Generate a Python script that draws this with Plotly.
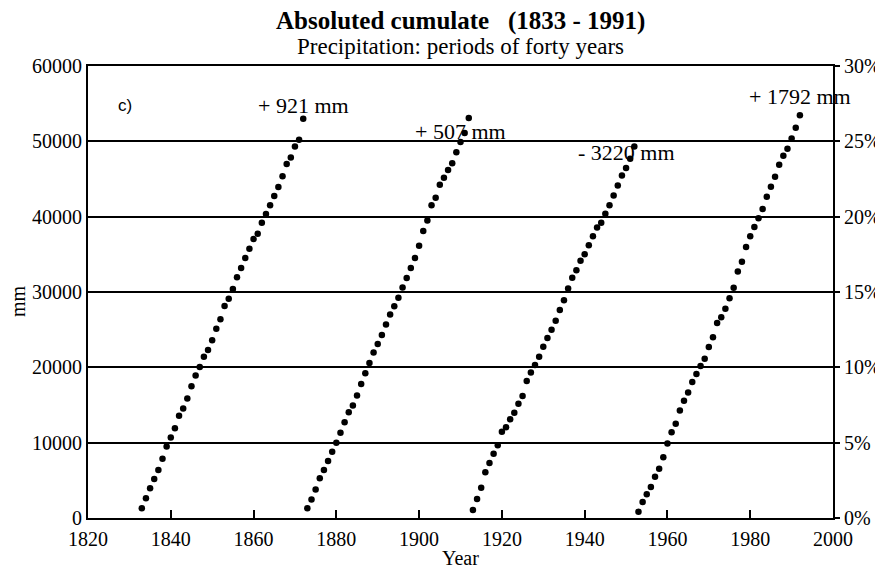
import plotly.graph_objects as go

# cumulative precipitation (mm), one point per year, four forty-year periods
years_1 = list(range(1833, 1873))
cum_1 = [1300, 2620, 3940, 5170, 6370, 7870, 9500, 10690, 11920, 13560,
         14530, 15850, 17480, 18930, 20040, 21410, 22290, 23610, 25110, 26390,
         28150, 29120, 30400, 31950, 33180, 34500, 35730, 37020, 37720, 39180,
         40370, 41520, 42750, 43940, 45350, 46980, 47870, 49320, 50210, 52990]

years_2 = list(range(1873, 1913))
cum_2 = [1300, 2440, 3770, 5270, 6370, 7560, 8800, 9990, 11310, 12720,
         14040, 14920, 16250, 17790, 19200, 20570, 21980, 23090, 24280, 25680,
         27000, 28100, 29250, 30600, 31850, 33200, 34500, 36150, 38100, 39500,
         41500, 42500, 44250, 45150, 46200, 47100, 48550, 49900, 51100, 53100]

years_3 = list(range(1913, 1953))
cum_3 = [1070, 2530, 4030, 6060, 7290, 8530, 9670, 11440, 12050, 13110,
         13960, 15150, 16210, 18190, 19330, 20310, 21410, 22730, 23880, 24980,
         26170, 27620, 28900, 30450, 31900, 32900, 34150, 35000, 36200, 37400,
         38550, 39200, 40400, 41500, 42800, 44150, 45450, 46450, 47700, 49300]

years_4 = list(range(1953, 1993))
cum_4 = [830, 2110, 3160, 4130, 5490, 6550, 8080, 9890, 11380, 12520,
         14270, 15550, 16650, 18060, 19110, 20170, 21130, 22710, 23990, 25870,
         26660, 27770, 29170, 30580, 32730, 34000, 35980, 37390, 38620, 39800,
         41030, 42660, 43980, 45300, 46880, 48070, 49030, 50390, 51800, 53470]

labels = ['+ 921 mm', '+ 507 mm', '- 3220 mm', '+ 1792 mm']
label_x = [1872, 1910, 1950, 1992]
label_y = [54700, 51300, 48500, 55900]

FONT = 'Liberation Serif'

fig = go.Figure()
for xs, ys in [(years_1, cum_1), (years_2, cum_2), (years_3, cum_3), (years_4, cum_4)]:
    fig.add_trace(go.Scatter(
        x=xs, y=ys, mode='markers',
        marker=dict(color='black', size=6.5),
        showlegend=False
    ))

# invisible trace so the percent axis is drawn
fig.add_trace(go.Scatter(x=[1820], y=[0], yaxis='y2', mode='markers',
                         marker=dict(opacity=0), showlegend=False, hoverinfo='skip'))

for txt, lx, ly in zip(labels, label_x, label_y):
    fig.add_annotation(x=lx, y=ly, text=txt, showarrow=False,
                       font=dict(family=FONT, size=22, color='black'))

fig.add_annotation(x=1829, y=54800, text='c)', showarrow=False,
                   font=dict(family='Liberation Sans', size=17, color='black'))

# titles and axis titles placed in paper coordinates
fig.add_annotation(text='<b>Absoluted cumulate   (1833 - 1991)</b>', xref='paper', yref='paper',
                   x=0.5, y=1.099, yanchor='middle', showarrow=False,
                   font=dict(family=FONT, size=25, color='black'))
fig.add_annotation(text='Precipitation: periods of forty years', xref='paper', yref='paper',
                   x=0.5, y=1.044, yanchor='middle', showarrow=False,
                   font=dict(family=FONT, size=23, color='black'))
fig.add_annotation(text='Year', xref='paper', yref='paper',
                   x=0.5, y=-0.088, yanchor='middle', showarrow=False,
                   font=dict(family=FONT, size=20, color='black'))
fig.add_annotation(text='mm', xref='paper', yref='paper', textangle=-90,
                   x=-0.094, y=0.48, xanchor='center', yanchor='middle', showarrow=False,
                   font=dict(family=FONT, size=20, color='black'))

# page body has an 8px margin, so the figure is made 8px smaller and margins shifted
fig.update_layout(
    width=875, height=561,
    margin=dict(l=80, r=50, t=58, b=51),
    paper_bgcolor='white',
    plot_bgcolor='white',
    font=dict(family=FONT, size=20, color='black'),
    xaxis=dict(
        range=[1820, 2000], tick0=1820, dtick=20,
        showgrid=False, zeroline=False, automargin=False,
        showline=True, linecolor='black', linewidth=2, mirror=True,
        ticks='inside', ticklen=8, tickwidth=2, tickcolor='black',
        ticklabelstandoff=2,
    ),
    yaxis=dict(
        range=[0, 60000], dtick=10000,
        showgrid=True, gridcolor='black', gridwidth=1.5, zeroline=False,
        showline=True, linecolor='black', linewidth=2, automargin=False,
        ticks='', tickformat='d',
    ),
    yaxis2=dict(
        range=[0, 30], dtick=5, overlaying='y', side='right',
        showgrid=False, zeroline=False, ticksuffix='%', automargin=False,
        showline=True, linecolor='black', linewidth=2,
        ticks='outside', ticklen=5, tickwidth=2, tickcolor='black',
    ),
)

fig.write_html('out.html')
